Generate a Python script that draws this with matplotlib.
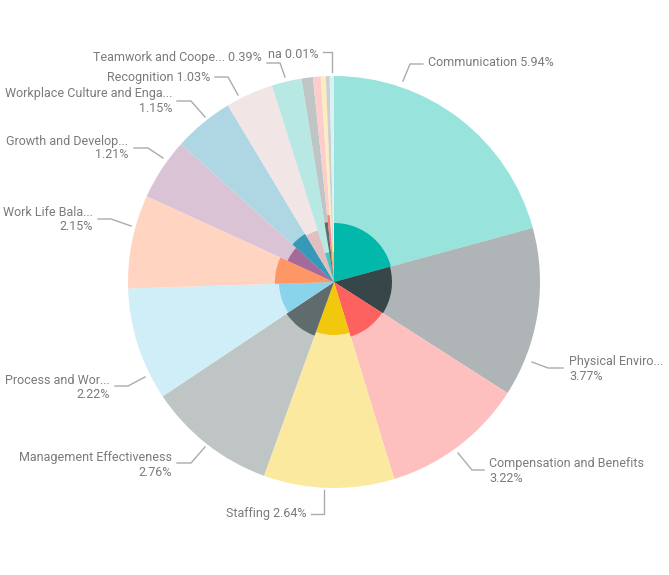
import matplotlib
matplotlib.use("Agg")
import matplotlib.pyplot as plt
from matplotlib.patches import Wedge
from matplotlib.colors import to_rgb

# categories in clockwise order from 12 o'clock
categories = ["Communication", "Physical Enviro...", "Compensation and Benefits", "Staffing",
              "Management Effectiveness", "Process and Wor...", "Work Life Bala...",
              "Growth and Develop...", "Workplace Culture and Enga...", "Recognition",
              "Teamwork and Coope...", "other 1", "other 2", "other 3", "other 4", "other 5", "na"]
label_pct = ["5.94%", "3.77%", "3.22%", "2.64%", "2.76%", "2.22%", "2.15%",
             "1.21%", "1.15%", "1.03%", "0.39%", "", "", "", "", "", "0.01%"]
# outer slice share
outer_share = [75, 48, 40.5, 37, 36.5, 32, 26.5, 17.5, 17, 13.5, 8.5, 3.2, 2.2, 1.4, 1.1, 1.0, 0.2]
# inner value, drawn as radius (outer ring = 206)
inner_size = [59, 58, 57, 53, 57, 55, 59, 51, 56, 54, 30, 60, 67, 40, 30, 30, 0]

base_colors = ["#01B8AA", "#374649", "#FD625E", "#F2C80F", "#5F6B6D", "#8AD4EB", "#FE9666",
               "#A66999", "#3599B8", "#DFBFBF", "#4AC5BB", "#5F6B6D", "#FB8281", "#F4D25A",
               "#7F898A", "#A4DDEE", "#FDAB89"]


def tint(c, a=0.4):
    r, g, b = to_rgb(c)
    return (1 - a + a * r, 1 - a + a * g, 1 - a + a * b)


plt.rcParams['font.family'] = ['Roboto', 'DejaVu Sans']

W, H = 669, 575
fig = plt.figure(figsize=(W / 100, H / 100), dpi=100)
ax = fig.add_axes([0, 0, 1, 1])
ax.axis('off')

cx, cy, R = 334, H - 282, 206

wedges, _ = ax.pie(outer_share, radius=R, center=(cx, cy), startangle=90, counterclock=False,
                   colors=[tint(c) for c in base_colors], wedgeprops=dict(linewidth=0))
ax.set_xlim(0, W)
ax.set_ylim(0, H)
ax.set_aspect('equal')

for w, r, c in zip(wedges, inner_size, base_colors):
    if r > 0:
        ax.add_patch(Wedge((cx, cy), r, w.theta1, w.theta2, facecolor=c, linewidth=0))

# label layout: (index, lines, x, y_top, ha, leader points in image pixels)
txt_col = "#7A7A7A"
line_col = "#ABABAB"
labels = [
    (0, ["Communication 5.94%"], 428, 63, 'left', [(403, 81), (410, 64), (423, 64)]),
    (1, ["Physical Enviro...", "3.77%"], 569, 362, 'left', [(532, 362), (548, 368), (563, 368)]),
    (2, ["Compensation and Benefits", "3.22%"], 489, 464, 'left', [(458, 453), (472, 470), (484, 470)]),
    (3, ["Staffing 2.64%"], 306, 514, 'right', [(324, 490), (324, 514), (311, 514)]),
    (4, ["Management Effectiveness", "2.76%"], 172, 458, 'right', [(205, 447), (191, 463), (177, 463)]),
    (5, ["Process and Wor...", "2.22%"], 110, 380, 'right', [(145, 377), (128, 386), (115, 386)]),
    (6, ["Work Life Bala...", "2.15%"], 93, 213, 'right', [(131, 226), (111, 219), (98, 219)]),
    (7, ["Growth and Develop...", "1.21%"], 128, 141, 'right', [(163, 158), (148, 148), (134, 148)]),
    (8, ["Workplace Culture and Enga...", "1.15%"], 172, 94, 'right', [(205, 117), (191, 101), (177, 101)]),
    (9, ["Recognition 1.03%"], 210, 77, 'right', [(238, 95), (228, 77), (215, 77)]),
    (10, ["Teamwork and Coope... 0.39%"], 262, 57, 'right', [(285, 77), (280, 63), (267, 63)]),
    (16, ["na 0.01%"], 268, 55, 'left', [(332, 72), (332, 52), (323, 52)]),
]

for idx, lines, x, y, ha, pts in labels:
    for k, t in enumerate(lines):
        ax.text(x, H - (y + k * 14), t, ha=ha, va='center', fontsize=9, color=txt_col)
    ax.plot([p[0] for p in pts], [H - p[1] for p in pts], color=line_col, lw=1)

fig.savefig("out.png", dpi=100)
